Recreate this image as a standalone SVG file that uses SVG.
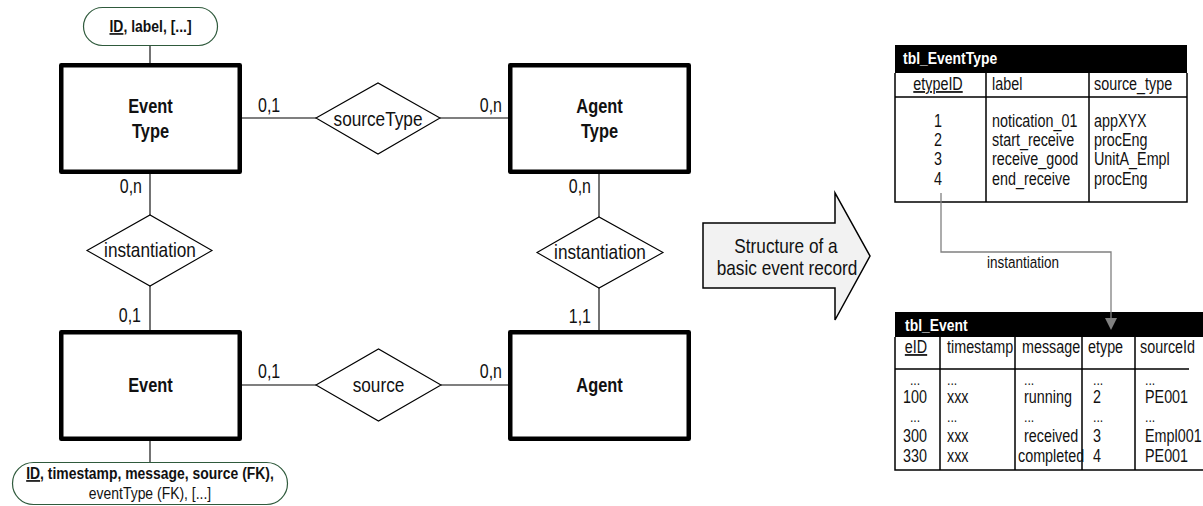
<svg xmlns="http://www.w3.org/2000/svg" width="1203" height="506" viewBox="0 0 1203 506">
  <style>
    text { font-family: "Liberation Sans", Arial, sans-serif; fill: #111; }
    .entity { fill: #fff; stroke: #000; stroke-width: 4.5; stroke-linejoin: round; }
    .rel { fill: #fff; stroke: #000; stroke-width: 1.1; }
    .attr { fill: #fff; stroke: #2f5a3c; stroke-width: 1.2; }
    .link { stroke: #000; stroke-width: 1.1; fill: none; }
    .ename { font-size: 20px; font-weight: bold; text-anchor: middle; }
    .rname { font-size: 21px; text-anchor: middle; }
    .card { font-size: 19.5px; }
    .end { text-anchor: end; }
    .atxt { font-size: 17px; text-anchor: middle; }
    .b { font-weight: bold; }
    .u { text-decoration: underline; }
    .tbl { fill: none; stroke: #000; stroke-width: 1.5; }
    .thead { fill: #000; }
    .ttitle { font-size: 17px; font-weight: bold; fill: #fff; }
    .tc { font-size: 17.5px; }
    .mid { text-anchor: middle; }
    .dots { font-size: 15px; }
    .fk { stroke: #808080; stroke-width: 1.3; fill: none; }
    .bigarrow { fill: #f2f2f2; stroke: #000; stroke-width: 1.5; stroke-linejoin: miter; }
    .atext { font-size: 21px; text-anchor: middle; }
  </style>
  <!-- all labels are set in a narrow cut: each text is squeezed to 82% width -->

  <!-- ER connectors -->
  <g id="connectors">
    <line class="link" x1="150" y1="46" x2="150" y2="65"/>
    <line class="link" x1="242" y1="118" x2="316" y2="118"/>
    <line class="link" x1="440" y1="118" x2="510" y2="118"/>
    <line class="link" x1="150" y1="172" x2="150" y2="215"/>
    <line class="link" x1="150" y1="286" x2="150" y2="332"/>
    <line class="link" x1="599" y1="172" x2="599" y2="217"/>
    <line class="link" x1="599" y1="288" x2="599" y2="332"/>
    <line class="link" x1="242" y1="385" x2="316" y2="385"/>
    <line class="link" x1="441" y1="385" x2="510" y2="385"/>
    <line class="link" x1="150" y1="439" x2="150" y2="463"/>
    <!-- cardinalities -->
    <text class="card" transform="translate(258,112) scale(.82,1)">0,1</text>
    <text class="card end" transform="translate(502,112) scale(.82,1)">0,n</text>
    <text class="card end" transform="translate(142,193) scale(.82,1)">0,n</text>
    <text class="card end" transform="translate(591,193) scale(.82,1)">0,n</text>
    <text class="card end" transform="translate(141,322) scale(.82,1)">0,1</text>
    <text class="card end" transform="translate(591,323) scale(.82,1)">1,1</text>
    <text class="card" transform="translate(258,378) scale(.82,1)">0,1</text>
    <text class="card end" transform="translate(502,378) scale(.82,1)">0,n</text>
  </g>

  <!-- attribute lists -->
  <g id="attr-eventtype">
    <rect class="attr" x="83.5" y="7.5" width="134" height="38" rx="19"/>
    <text class="atxt b" transform="translate(150.5,32) scale(.82,1)"><tspan class="u">ID</tspan>, label, [...]</text>
  </g>
  <g id="attr-event">
    <rect class="attr" x="12.5" y="462.5" width="275" height="42" rx="21"/>
    <text class="atxt b" transform="translate(150,479) scale(.82,1)"><tspan class="u">ID</tspan>, timestamp, message, source (FK),</text>
    <text class="atxt" transform="translate(150,499) scale(.82,1)">eventType (FK), [...]</text>
  </g>

  <!-- entities -->
  <g id="event-type">
    <rect class="entity" x="61.25" y="65.25" width="178.5" height="106.5"/>
    <text class="ename" transform="translate(150.5,113) scale(.82,1)">Event</text>
    <text class="ename" transform="translate(150.5,138) scale(.82,1)">Type</text>
  </g>
  <g id="agent-type">
    <rect class="entity" x="510.25" y="65.25" width="178.5" height="106.5"/>
    <text class="ename" transform="translate(599.5,113) scale(.82,1)">Agent</text>
    <text class="ename" transform="translate(599.5,138) scale(.82,1)">Type</text>
  </g>
  <g id="event">
    <rect class="entity" x="61.25" y="332.25" width="178.5" height="106.5"/>
    <text class="ename" transform="translate(150.5,392) scale(.82,1)">Event</text>
  </g>
  <g id="agent">
    <rect class="entity" x="510.25" y="332.25" width="178.5" height="106.5"/>
    <text class="ename" transform="translate(599.5,392) scale(.82,1)">Agent</text>
  </g>

  <!-- relationships -->
  <g id="rel-sourcetype">
    <polygon class="rel" points="316,118 378,83 440,118 378,154"/>
    <text class="rname" transform="translate(378,126) scale(.82,1)">sourceType</text>
  </g>
  <g id="rel-source">
    <polygon class="rel" points="316,385 378.5,349 441,385 378.5,421"/>
    <text class="rname" transform="translate(378.5,392) scale(.82,1)">source</text>
  </g>
  <g id="rel-instantiation-event">
    <polygon class="rel" points="87,250.5 150,215 212,250.5 150,286"/>
    <text class="rname" transform="translate(150,257) scale(.82,1)">instantiation</text>
  </g>
  <g id="rel-instantiation-agent">
    <polygon class="rel" points="537,252.5 599,217 663,252.5 599,288"/>
    <text class="rname" transform="translate(600,259) scale(.82,1)">instantiation</text>
  </g>

  <!-- transition arrow -->
  <g id="structure-arrow">
    <polygon class="bigarrow" points="703,223 835,223 835,193 870,256 835,320 835,288 703,288"/>
    <text class="atext" transform="translate(786,253) scale(.82,1)">Structure of a</text>
    <text class="atext" transform="translate(787,275) scale(.82,1)">basic event record</text>
  </g>

  <!-- event type table -->
  <g id="tbl-eventtype">
    <rect class="thead" x="895" y="45" width="292" height="28"/>
    <text class="ttitle" transform="translate(903,64) scale(.82,1)">tbl_EventType</text>
    <path class="tbl" d="M895,73 V202 H1187 V73 M895,97 H1187 M986,73 V202 M1089,73 V202"/>
    <text class="tc mid" transform="translate(938,90) scale(.82,1)"><tspan class="u">etypeID</tspan></text>
    <text class="tc" transform="translate(992,90) scale(.82,1)">label</text>
    <text class="tc" transform="translate(1094,90) scale(.82,1)">source_type</text>
    <text class="tc mid" transform="translate(938,127) scale(.82,1)">1</text>
    <text class="tc mid" transform="translate(938,146) scale(.82,1)">2</text>
    <text class="tc mid" transform="translate(938,165) scale(.82,1)">3</text>
    <text class="tc mid" transform="translate(938,185) scale(.82,1)">4</text>
    <text class="tc" transform="translate(992,127) scale(.82,1)">notication_01</text>
    <text class="tc" transform="translate(992,146) scale(.82,1)">start_receive</text>
    <text class="tc" transform="translate(992,165) scale(.82,1)">receive_good</text>
    <text class="tc" transform="translate(992,185) scale(.82,1)">end_receive</text>
    <text class="tc" transform="translate(1094,127) scale(.82,1)">appXYX</text>
    <text class="tc" transform="translate(1094,146) scale(.82,1)">procEng</text>
    <text class="tc" transform="translate(1094,165) scale(.82,1)">UnitA_Empl</text>
    <text class="tc" transform="translate(1094,185) scale(.82,1)">procEng</text>
  </g>

  <!-- event table -->
  <g id="tbl-event">
    <rect class="thead" x="895" y="312" width="308" height="25"/>
    <text class="ttitle" transform="translate(905,331) scale(.82,1)">tbl_Event</text>
    <path class="tbl" d="M895,337 V470 H1203 M895,369 H1189 M940,337 V470 M1015,337 V470 M1082,337 V470 M1135,337 V470"/>
    <text class="tc mid" transform="translate(916,353) scale(.82,1)"><tspan class="u">eID</tspan></text>
    <text class="tc" transform="translate(947,353) scale(.82,1)">timestamp</text>
    <text class="tc" transform="translate(1022,353) scale(.82,1)">message</text>
    <text class="tc" transform="translate(1088,353) scale(.82,1)">etype</text>
    <text class="tc" transform="translate(1140,353) scale(.82,1)">sourceId</text>

    <text class="dots mid" transform="translate(915,385) scale(.82,1)">...</text>
    <text class="dots" transform="translate(947,385) scale(.82,1)">...</text>
    <text class="dots" transform="translate(1024,385) scale(.82,1)">...</text>
    <text class="dots" transform="translate(1093,385) scale(.82,1)">...</text>
    <text class="dots" transform="translate(1145,385) scale(.82,1)">...</text>

    <text class="tc mid" transform="translate(915,403) scale(.82,1)">100</text>
    <text class="tc" transform="translate(947,403) scale(.82,1)">xxx</text>
    <text class="tc" transform="translate(1024,403) scale(.82,1)">running</text>
    <text class="tc" transform="translate(1093,403) scale(.82,1)">2</text>
    <text class="tc" transform="translate(1145,403) scale(.82,1)">PE001</text>

    <text class="dots mid" transform="translate(915,422) scale(.82,1)">...</text>
    <text class="dots" transform="translate(947,422) scale(.82,1)">...</text>
    <text class="dots" transform="translate(1024,422) scale(.82,1)">...</text>
    <text class="dots" transform="translate(1093,422) scale(.82,1)">...</text>
    <text class="dots" transform="translate(1145,422) scale(.82,1)">...</text>

    <text class="tc mid" transform="translate(915,442) scale(.82,1)">300</text>
    <text class="tc" transform="translate(947,442) scale(.82,1)">xxx</text>
    <text class="tc" transform="translate(1024,442) scale(.82,1)">received</text>
    <text class="tc" transform="translate(1093,442) scale(.82,1)">3</text>
    <text class="tc" transform="translate(1145,442) scale(.82,1)">Empl001</text>

    <text class="tc mid" transform="translate(915,462) scale(.82,1)">330</text>
    <text class="tc" transform="translate(947,462) scale(.82,1)">xxx</text>
    <text class="tc" transform="translate(1018,462) scale(.82,1)">completed</text>
    <text class="tc" transform="translate(1093,462) scale(.82,1)">4</text>
    <text class="tc" transform="translate(1145,462) scale(.82,1)">PE001</text>
  </g>

  <!-- foreign key link between the tables -->
  <g id="fk-link">
    <polyline class="fk" points="941,193 941,252 1111,252 1111,319"/>
    <polygon fill="#808080" points="1105,318 1117,318 1111,330"/>
    <text class="tc mid" style="font-size:16.5px" transform="translate(1023,268) scale(.82,1)">instantiation</text>
  </g>
</svg>
